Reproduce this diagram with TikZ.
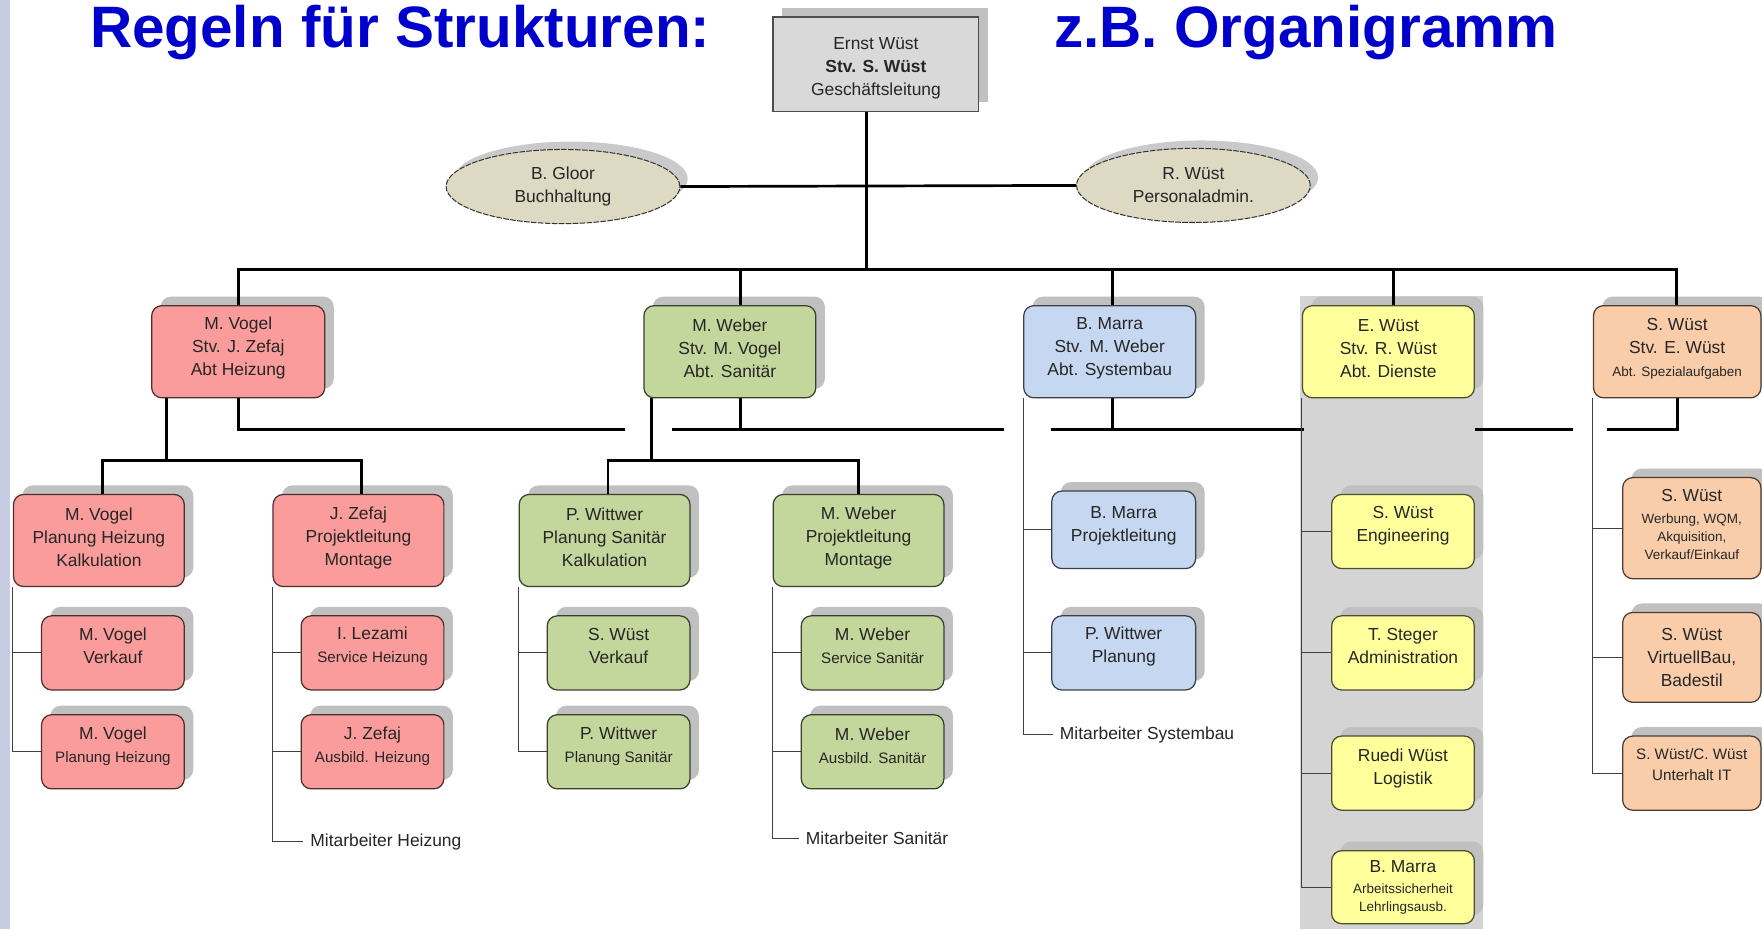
\documentclass[tikz,border=0pt]{standalone}
\usepackage{fontspec}
\setmainfont{Liberation Sans}
\usetikzlibrary{shapes.geometric}
\definecolor{cHz}{HTML}{FB9C9C}
\definecolor{cSa}{HTML}{C3D69B}
\definecolor{cSy}{HTML}{C6D7F1}
\definecolor{cDi}{HTML}{FFFF9C}
\definecolor{cSp}{HTML}{F9CDAA}
\definecolor{cEl}{HTML}{DDD9C3}
\definecolor{cTop}{HTML}{D9D9D9}
\definecolor{cShad}{HTML}{C0C0C0}
\definecolor{cShadE}{HTML}{CACACA}
\definecolor{cCol}{HTML}{D4D4D4}
\definecolor{cStrip}{HTML}{C8CCE2}
\definecolor{cTitle}{HTML}{0000CC}
\pgfdeclarelayer{back}
\pgfdeclarelayer{shad}
\pgfdeclarelayer{lines}
\pgfsetlayers{back,shad,lines,main}
\newcommand\sm[1]{{\fontsize{13.5}{17}\selectfont #1}}
\newcommand\smm[1]{{\fontsize{12}{15}\selectfont #1}}
\newcommand\obox[8]{%
  \begin{pgfonlayer}{shad}
    \fill[cShad, rounded corners=9pt] ({(#3)+8},{(#4)-8}) rectangle ({(#5)+8},{(#6)-8});
  \end{pgfonlayer}
  \node[#2, minimum width={(#5)-(#3)}, minimum height={(#6)-(#4)}] (#1) at ({((#3)+(#5))/2},{((#4)+(#6))/2}) {};
  \node[txt] (#1-t) at ({((#3)+(#5))/2},{((#4)+(#6))/2+(#8)}) {#7};}
\begin{document}
\begin{tikzpicture}[x=1pt,y=-1pt,
  box/.style={line width=1.1pt, rounded corners=9pt, inner sep=0pt},
  hzbox/.style={box, fill=cHz, draw=cHz!30!black},
  sabox/.style={box, fill=cSa, draw=cSa!30!black},
  sybox/.style={box, fill=cSy, draw=cSy!30!black},
  dibox/.style={box, fill=cDi, draw=cDi!30!black},
  spbox/.style={box, fill=cSp, draw=cSp!30!black},
  ellbox/.style={ellipse, draw=black!80, line width=0.9pt, dash pattern=on 5pt off 1.2pt, fill=cEl, inner sep=0pt, minimum width=208pt, minimum height=66pt, align=center, font=\fontsize{15.5}{20.5}\selectfont, text=black!85},
  txt/.style={font=\fontsize{15.5}{20.5}\selectfont, align=center, inner sep=0pt, text=black!85},
  lbl/.style={txt, anchor=west, inner xsep=6pt},
  main/.style={line width=2.4pt, black},
  side/.style={line width=1pt, black!75},
  titl/.style={font=\fontsize{52}{60}\selectfont\bfseries, text=cTitle, inner sep=0pt, anchor=base west}]
\useasboundingbox (0,0) rectangle (1568,827);
\begin{pgfonlayer}{back}
  \fill[white] (0,0) rectangle (1568,827);
  \fill[cStrip] (0,0) rectangle (9,827);
  \fill[cCol] (1157,263) rectangle (1320,827);
\end{pgfonlayer}

% titles
\node[titl] (t1) at (80,42) {Regeln für Strukturen:};
\node[titl] (t2) at (938,42) {z.B. Organigramm};

% top box
\begin{pgfonlayer}{shad}
  \fill[cShad] (696,7) rectangle (879,91);
\end{pgfonlayer}
\node[draw=black!70, line width=1.2pt, fill=cTop, minimum width=183pt, minimum height=84pt, inner sep=0pt] (top) at (779.5,57) {};
\node[txt] (top-t) at (779.5,60.5) {Ernst Wüst\\\textbf{Stv. S. Wüst}\\Geschäftsleitung};

% staff ellipses
\begin{pgfonlayer}{shad}
  \fill[cShadE] (508,159) ellipse [x radius=104, y radius=33];
  \fill[cShadE] (1069,158) ellipse [x radius=104, y radius=33];
\end{pgfonlayer}
\node[ellbox] (gl) at (501,166) {B. Gloor\\Buchhaltung};
\node[ellbox] (rw) at (1062,165) {R. Wüst\\Personaladmin.};

% departments
\obox{hz}{hzbox}{135}{272}{289}{354}{M. Vogel\\Stv. J. Zefaj\\Abt Heizung}{-3}
\obox{sa}{sabox}{573}{272}{726}{354}{M. Weber\\Stv. M. Vogel\\Abt. Sanitär}{-3}
\obox{sy}{sybox}{911}{272}{1064}{354}{B. Marra\\Stv. M. Weber\\Abt. Systembau}{-3}
\obox{di}{dibox}{1159}{272}{1312}{354}{E. Wüst\\Stv. R. Wüst\\Abt. Dienste}{-3}
\obox{sp}{spbox}{1418}{272}{1567}{354}{S. Wüst\\Stv. E. Wüst\\\smm{Abt. Spezialaufgaben}}{-3}

% row 2
\obox{hz1}{hzbox}{12}{440}{164}{522}{M. Vogel\\Planung Heizung\\Kalkulation}{-2.5}
\obox{hz2}{hzbox}{243}{440}{395}{522}{J. Zefaj\\Projektleitung\\Montage}{-2.5}
\obox{sa1}{sabox}{462}{440}{614}{522}{P. Wittwer\\Planung Sanitär\\Kalkulation}{-2.5}
\obox{sa2}{sabox}{688}{440}{840}{522}{M. Weber\\Projektleitung\\Montage}{-2.5}
\obox{sy1}{sybox}{936}{437}{1064}{506}{B. Marra\\Projektleitung}{-3.5}
\obox{di1}{dibox}{1185}{440}{1312}{506}{S. Wüst\\Engineering}{-5}
\obox{sp1}{spbox}{1444}{425}{1567}{515}{S. Wüst\\[-1pt]\smm{Werbung, WQM,}\\[-4.5pt]\smm{Akquisition,}\\[-4.5pt]\smm{Verkauf/Einkauf}}{-3}

% row 3
\obox{hz3}{hzbox}{37}{548}{164}{614}{M. Vogel\\Verkauf}{-6}
\obox{hz4}{hzbox}{268}{548}{395}{614}{I. Lezami\\\sm{Service Heizung}}{-6}
\obox{sa3}{sabox}{487}{548}{614}{614}{S. Wüst\\Verkauf}{-6}
\obox{sa4}{sabox}{713}{548}{840}{614}{M. Weber\\\sm{Service Sanitär}}{-6}
\obox{sy2}{sybox}{936}{548}{1064}{614}{P. Wittwer\\Planung}{-6}
\obox{di2}{dibox}{1185}{548}{1312}{614}{T. Steger\\Administration}{-6}
\obox{sp2}{spbox}{1444}{545}{1567}{625}{S. Wüst\\VirtuellBau,\\Badestil}{0}

% row 4
\obox{hz5}{hzbox}{37}{636}{164}{702}{M. Vogel\\\sm{Planung Heizung}}{-5}
\obox{hz6}{hzbox}{268}{636}{395}{702}{J. Zefaj\\\sm{Ausbild. Heizung}}{-5}
\obox{sa5}{sabox}{487}{636}{614}{702}{P. Wittwer\\\sm{Planung Sanitär}}{-5}
\obox{sa6}{sabox}{713}{636}{840}{702}{M. Weber\\\sm{Ausbild. Sanitär}}{-5}
\obox{di3}{dibox}{1185}{655}{1312}{721}{Ruedi Wüst\\Logistik}{-4.5}
\obox{sp3}{spbox}{1444}{655}{1567}{721}{\sm{S. Wüst/C. Wüst}\\[-1.5pt]\sm{Unterhalt IT}}{-7.5}

% row 5
\obox{di4}{dibox}{1185}{757}{1312}{822}{B. Marra\\[-1.5pt]\smm{Arbeitssicherheit}\\[-4.5pt]\smm{Lehrlingsausb.}}{0}

% staff labels
\node[lbl] (mh) at (270,749) {Mitarbeiter Heizung};
\node[lbl] (ms) at (711,746) {Mitarbeiter Sanitär};
\node[lbl] (my) at (937,654) {Mitarbeiter Systembau};

% connectors
\coordinate (b0) at (771,240);
\coordinate (b1) at (212,240);
\coordinate (b2) at (659,240);
\coordinate (b3) at (990,240);
\coordinate (b4) at (1240,240);
\coordinate (b5) at (1492,240);
\coordinate (c1) at (212,382);  \coordinate (c1e) at (556,382);
\coordinate (c2s) at (598,382); \coordinate (c2) at (659,382); \coordinate (c2e) at (893,382);
\coordinate (c3s) at (935,382); \coordinate (c3) at (990,382); \coordinate (c3e) at (1160,382);
\coordinate (c4s) at (1313,382); \coordinate (c4e) at (1400,382);
\coordinate (c5s) at (1430,382); \coordinate (c5) at (1493,382);
\coordinate (h) at (148,410); \coordinate (h1) at (91,410); \coordinate (h2) at (322,410);
\coordinate (s) at (580,410); \coordinate (s1) at (541,410); \coordinate (s2) at (764,410);

\begin{pgfonlayer}{lines}
  \draw[main] (b0 |- top.south) -- (b0);
  \draw[main] (gl.east) -- (rw.west);
  \draw[main] (b1 |- hz.north) -- (b1) -- (b5) -- (b5 |- sp.north);
  \draw[main] (b2) -- (b2 |- sa.north);
  \draw[main] (b3) -- (b3 |- sy.north);
  \draw[main] (b4) -- (b4 |- di.north);
  % second level bus
  \draw[main] (c1 |- hz.south) -- (c1) -- (c1e);
  \draw[main] (c2s) -- (c2e);
  \draw[main] (c2 |- sa.south) -- (c2);
  \draw[main] (c3s) -- (c3e);
  \draw[main] (c3 |- sy.south) -- (c3);
  \draw[main] (c4s) -- (c4e);
  \draw[main] (c5s) -- (c5) -- (c5 |- sp.south);
  % subtrees
  \draw[main] (h |- hz.south) -- (h);
  \draw[main] (h1 |- hz1.north) -- (h1) -- (h2) -- (h2 |- hz2.north);
  \draw[main] (s |- sa.south) -- (s);
  \draw[main] (s1 |- sa1.north) -- (s1) -- (s2) -- (s2 |- sa2.north);
  % side lines
  \draw[side] (hz1.south west) |- (hz5.west);
  \draw[side] (hz3.west) -- (hz3.west -| hz1.south west);
  \draw[side] (hz2.south west) |- (mh.west);
  \draw[side] (hz4.west) -- (hz4.west -| hz2.south west);
  \draw[side] (hz6.west) -- (hz6.west -| hz2.south west);
  \draw[side] (sa1.south west) |- (sa5.west);
  \draw[side] (sa3.west) -- (sa3.west -| sa1.south west);
  \draw[side] (sa2.south west) |- (ms.west);
  \draw[side] (sa4.west) -- (sa4.west -| sa2.south west);
  \draw[side] (sa6.west) -- (sa6.west -| sa2.south west);
  \draw[side] (sy.south west) |- (my.west);
  \draw[side] (sy1.west) -- (sy1.west -| sy.south west);
  \draw[side] (sy2.west) -- (sy2.west -| sy.south west);
  \draw[side] (di.south west) |- (di4.west);
  \draw[side] (di1.west) -- (di1.west -| di.south west);
  \draw[side] (di2.west) -- (di2.west -| di.south west);
  \draw[side] (di3.west) -- (di3.west -| di.south west);
  \draw[side] (sp.south west) |- (sp3.west);
  \draw[side] (sp1.west) -- (sp1.west -| sp.south west);
  \draw[side] (sp2.west) -- (sp2.west -| sp.south west);
\end{pgfonlayer}
\end{tikzpicture}
\end{document}
